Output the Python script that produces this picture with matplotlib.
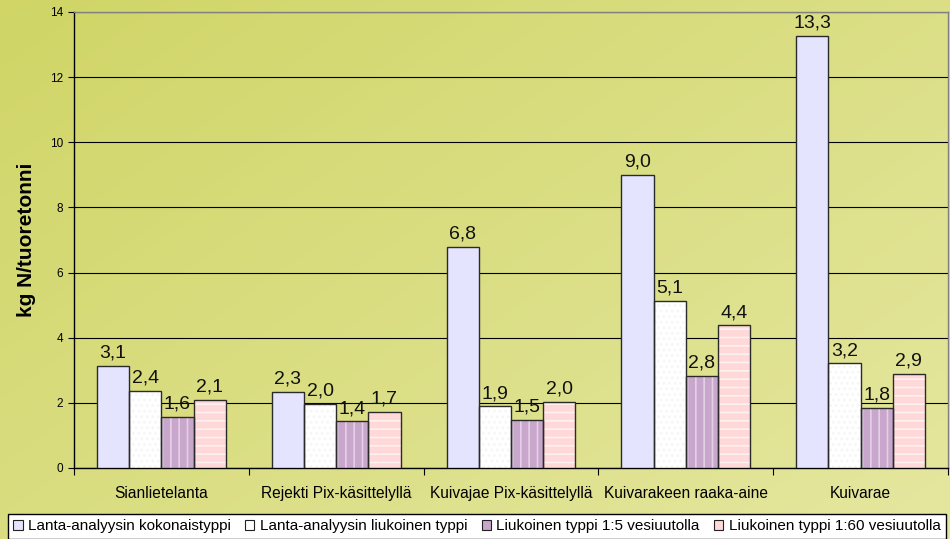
import numpy as np
import matplotlib
matplotlib.use("Agg")
import matplotlib.pyplot as plt
from matplotlib.patches import Patch

plt.rcParams['font.family'] = ['Liberation Sans', 'DejaVu Sans']
plt.rcParams['hatch.linewidth'] = 1.2

categories = ["Sianlietelanta", "Rejekti Pix-käsittelyllä", "Kuivajae Pix-käsittelyllä",
              "Kuivarakeen raaka-aine", "Kuivarae"]
series_names = ["Lanta-analyysin kokonaistyppi", "Lanta-analyysin liukoinen typpi",
                "Liukoinen typpi 1:5 vesiuutolla", "Liukoinen typpi 1:60 vesiuutolla"]
kokonais = [3.14, 2.34, 6.78, 9.01, 13.26]
liukoinen = [2.36, 1.98, 1.89, 5.14, 3.21]
vesi_1_5 = [1.58, 1.43, 1.48, 2.83, 1.84]
vesi_1_60 = [2.09, 1.73, 2.03, 4.38, 2.90]
y_ticks = [0, 2, 4, 6, 8, 10, 12, 14]
y_label = "kg N/tuoretonni"

series = [kokonais, liukoinen, vesi_1_5, vesi_1_60]
face = ['#E4E4FF', '#FFFFFF', '#C9A6CC', '#FFD9D9']
hatch_col = ['#EEEEFF', '#F6F6F6', '#E4D0E6', '#FFF0F0']
hatches = ['', '...', '||', '--']

fig = plt.figure(figsize=(9.5, 5.39), dpi=100)

# background gradient
bg = fig.add_axes([0, 0, 1, 1], zorder=-10)
h, w = 200, 350
yy, xx = np.mgrid[0:1:h*1j, 0:1:w*1j]
t = (xx * 0.55 + yy * 0.45)
c0 = np.array([208, 213, 102]) / 255.0
c1 = np.array([229, 231, 160]) / 255.0
img = c0[None, None, :] * (1 - t[..., None]) + c1[None, None, :] * t[..., None]
bg.imshow(img, aspect='auto', extent=[0, 1, 0, 1], origin='upper')
bg.set_axis_off()

ax = fig.add_axes([74/950, 1 - 468/539, (948 - 74)/950, (468 - 12)/539])
ax.set_facecolor('none')

n = len(series)
x = np.arange(len(categories))
bw = 0.184
for i, vals in enumerate(series):
    pos = x + (i - (n - 1) / 2) * bw
    ax.bar(pos, vals, bw, color=face[i], edgecolor=hatch_col[i], hatch=hatches[i],
           linewidth=0, zorder=3)
    bars = ax.bar(pos, vals, bw, facecolor='none', edgecolor='#2a2a2a', linewidth=1.0, zorder=4)
    ax.bar_label(bars, labels=[f"{v:.1f}".replace('.', ',') for v in vals],
                 padding=3, fontsize=14, color='#111111', zorder=5)

ax.set_xlim(-0.5, len(categories) - 0.5)
ax.set_ylim(0, 14)
ax.set_yticks(y_ticks)
ax.set_yticklabels([str(v) for v in y_ticks], fontsize=8.5)
ax.tick_params(axis='y', length=4, width=0.8, pad=4, color='black')
ax.set_xticks(x)
ax.set_xticklabels(categories, fontsize=11.2)
ax.tick_params(axis='x', which='major', length=0, pad=13)
ax.set_xticks(np.arange(-0.5, len(categories)), minor=True)
ax.tick_params(axis='x', which='minor', length=5, width=0.8, color='black')

ax.yaxis.grid(True, color='black', linewidth=0.8, zorder=1)
ax.set_axisbelow(True)
for s in ['top', 'right']:
    ax.spines[s].set_color('#808080')
    ax.spines[s].set_linewidth(1.0)
for s in ['left', 'bottom']:
    ax.spines[s].set_color('black')
    ax.spines[s].set_linewidth(1.0)

fig.text(27/950, 1 - 240/539, y_label, rotation=90, fontsize=15, fontweight='bold',
         ha='center', va='center')

handles = [Patch(facecolor=face[i], edgecolor='#222222', linewidth=0.8) for i in range(n)]
leg = fig.legend(handles, series_names, loc='upper left', bbox_to_anchor=(8/950, 1 - 514/539),
                 ncol=4, fontsize=11, frameon=True, fancybox=False, edgecolor='black',
                 handlelength=0.6, handleheight=0.6, handletextpad=0.35, columnspacing=0.95,
                 borderpad=0.35, borderaxespad=0)
leg.get_frame().set_facecolor('white')
leg.get_frame().set_linewidth(1.0)
leg.get_frame().set_alpha(1)

fig.savefig("out.png", dpi=100)
